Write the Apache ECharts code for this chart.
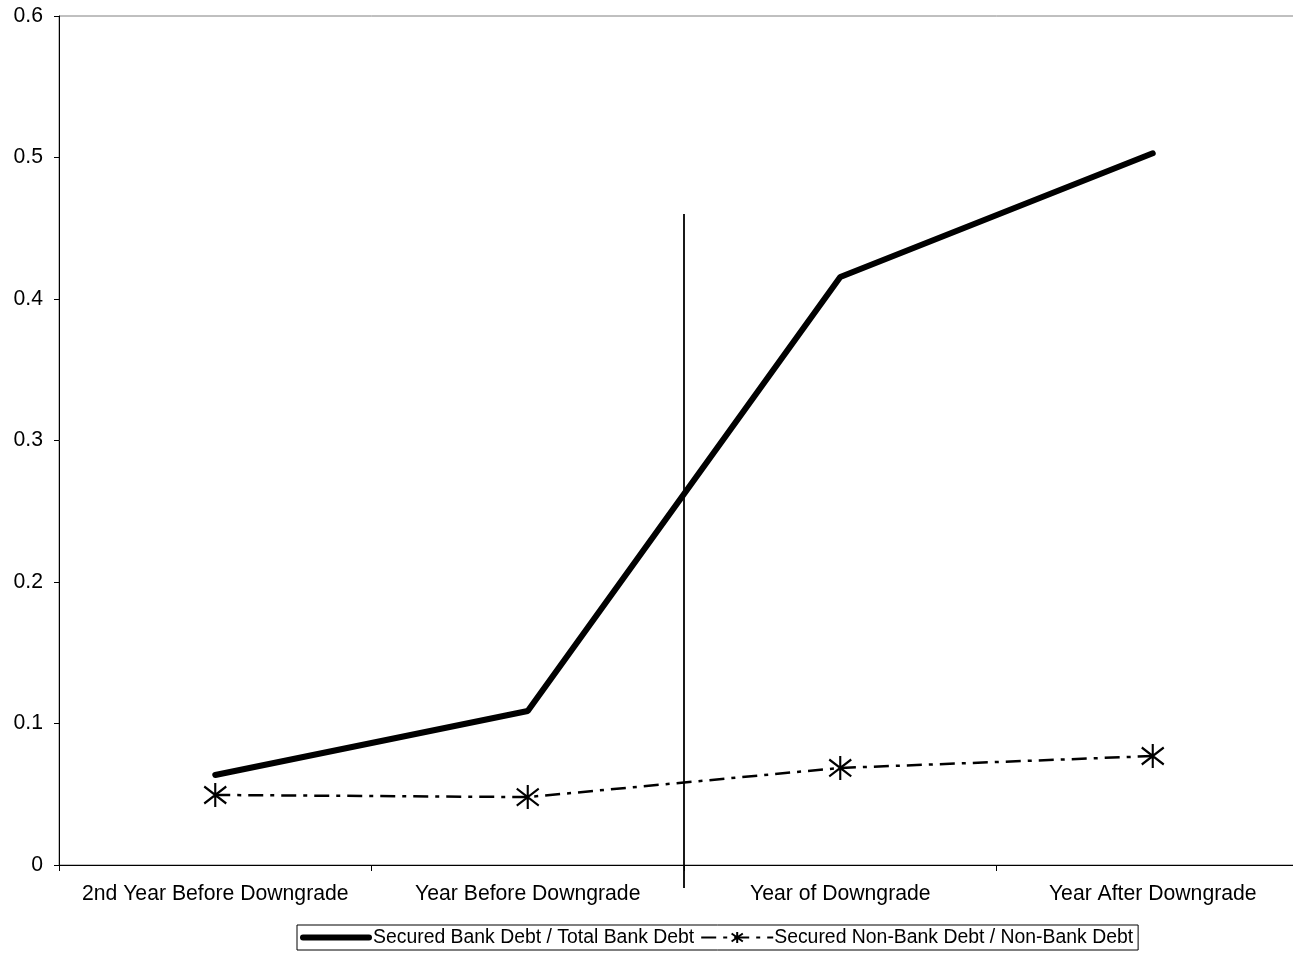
<!DOCTYPE html>
<html><head><meta charset="utf-8">
<script src="https://cdn.jsdelivr.net/npm/echarts@6/dist/echarts.min.js"></script>
<style>html,body{margin:0;padding:0;background:#fff;overflow:hidden}#c{width:1330px;height:955px}</style>
</head><body><div id="c"></div>
<script>
var categories = ['2nd Year Before Downgrade', 'Year Before Downgrade', 'Year of Downgrade', 'Year After Downgrade'];
var bankName = 'Secured Bank Debt / Total Bank Debt';
var nonBankName = 'Secured Non-Bank Debt / Non-Bank Debt';
var bankValues = [0.0636, 0.1088, 0.4155, 0.503];
var nonBankValues = [0.0495, 0.048, 0.0686, 0.077];
var dividerX = [1.5, 1.5];
var dividerY = [0.46, -0.0163];

var star = 'path://M0,-10L0,10M-7.07,-7.07L7.07,7.07M-7.07,7.07L7.07,-7.07';
var thickLine = 'path://M3,0L69,0A3,3,0,0,1,69,6L3,6A3,3,0,0,1,3,0Z';
var chart = echarts.init(document.getElementById('c'), null, {renderer: 'canvas'});
var font = 'Liberation Sans, Arial, sans-serif';
chart.setOption({
  animation: false,
  textStyle: {fontFamily: font},
  grid: {left: 59, top: 16, width: 1250, height: 849, show: true, borderColor: '#808080', borderWidth: 1},
  xAxis: [{
    type: 'category', data: categories, boundaryGap: true,
    axisLine: {onZero: false, lineStyle: {color: '#000', width: 1}},
    axisTick: {show: true, interval: 0, length: 6, lineStyle: {color: '#000'}},
    axisLabel: {color: '#000', fontSize: 21.2, margin: 19, interval: 0, fontFamily: font},
    splitLine: {show: false}
  }, {
    type: 'value', min: -0.5, max: 3.5, show: false, position: 'bottom'
  }],
  yAxis: {
    type: 'value', min: 0, max: 0.6, interval: 0.1,
    axisLine: {show: true, onZero: false, lineStyle: {color: '#000', width: 1}},
    axisTick: {show: true, length: 5, lineStyle: {color: '#000'}},
    axisLabel: {color: '#000', fontSize: 21.2, margin: 16, fontFamily: font},
    splitLine: {show: false}
  },
  legend: {
    bottom: 5, left: 297,
    itemWidth: 72, itemHeight: 14, itemGap: 6,
    padding: [3, 5, 3, 3],
    borderColor: '#000', borderWidth: 1, borderRadius: 0,
    textStyle: {color: '#000', fontSize: 19.4, fontFamily: font, padding: [0, 0, 0, -4]},
    data: [{name: bankName, icon: thickLine}, {name: nonBankName}]
  },
  series: [{
    name: bankName, type: 'line', data: bankValues,
    symbol: 'none', lineStyle: {color: '#000', width: 6, cap: 'round'},
    itemStyle: {color: '#000'}
  }, {
    name: nonBankName, type: 'line', data: nonBankValues,
    symbol: star, symbolSize: [22, 24],
    lineStyle: {color: '#000', width: 2.5, type: [15, 7, 4, 7]},
    itemStyle: {color: 'none', borderColor: '#000', borderWidth: 2.2}
  }, {
    type: 'line', xAxisIndex: 1, clip: false, silent: true,
    data: dividerX.map(function (x, i) { return [x, dividerY[i]]; }),
    symbol: 'none', lineStyle: {color: '#000', width: 1.8}
  }]
});
</script></body></html>
